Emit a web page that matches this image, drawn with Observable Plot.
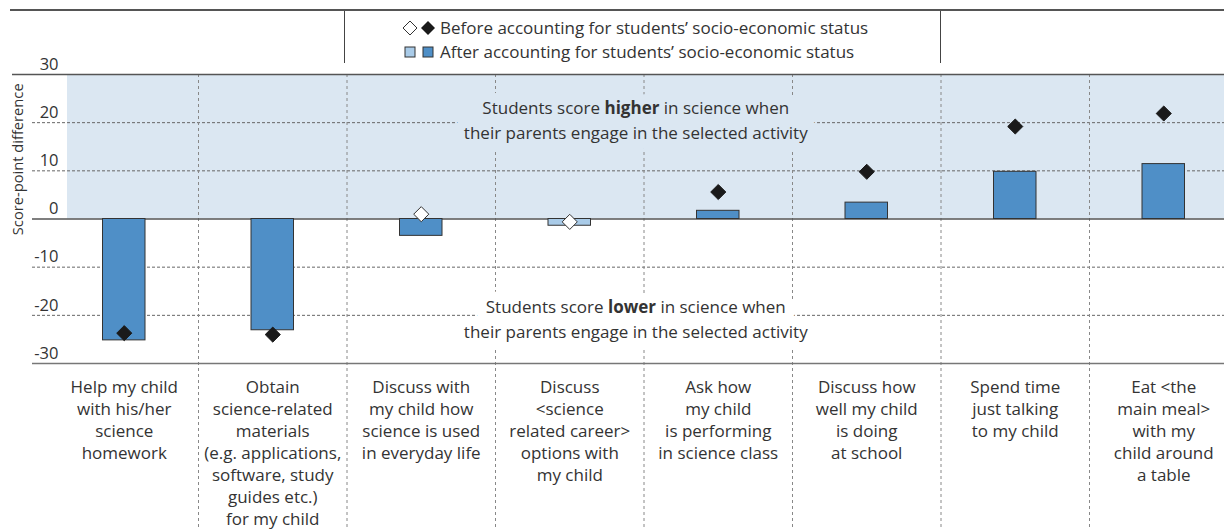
<!DOCTYPE html>
<html>
<head>
<meta charset="utf-8">
<script src="https://cdn.jsdelivr.net/npm/d3@7"></script>
<script src="https://cdn.jsdelivr.net/npm/@observablehq/plot@0.6"></script>
<style>
  html, body { margin: 0; padding: 0; background: #fff; overflow: hidden; }
  body { font-family: "Open Sans", Lato, sans-serif; color: #333; }
  #wrap { position: relative; width: 1224px; height: 530px; }
  #head { position: relative; width: 1224px; height: 63px; }
  #rule { position: absolute; left: 10px; right: 0; top: 9px; height: 2px; background: #555; }
  #lbox { position: absolute; left: 344px; width: 595px; top: 11px; height: 52px;
          border-left: 1.5px solid #444; border-right: 1.5px solid #444; }
  .lrow { position: absolute; left: 56px; font-size: 17px; line-height: 18px; white-space: nowrap; display: flex; align-items: center; }
  #chart svg { display: block; overflow: visible; }
</style>
</head>
<body>
<div id="wrap">
  <div id="head">
    <div id="rule"></div>
    <div id="lbox">
      <div class="lrow" style="top:8px">
        <svg width="39" height="18"><path d="M9,2 L16,9 L9,16 L2,9 Z" fill="#fff" stroke="#333" stroke-width="1"/><path d="M27,2 L34,9 L27,16 L20,9 Z" fill="#1a1a1a"/></svg><span id="lg1"></span>
      </div>
      <div class="lrow" style="top:32px">
        <svg width="39" height="18"><rect x="4" y="4" width="10" height="10" fill="#a9cbe8" stroke="#333" stroke-width="1"/><rect x="22" y="4" width="10" height="10" fill="#4f8fc7" stroke="#333" stroke-width="1"/></svg><span id="lg2"></span>
      </div>
    </div>
  </div>
  <div id="chart"></div>
</div>
<script>
// ---- data ----
const categories = [
  "Help my child\nwith his/her\nscience\nhomework",
  "Obtain\nscience-related\nmaterials\n(e.g. applications,\nsoftware, study\nguides etc.)\nfor my child",
  "Discuss with\nmy child how\nscience is used\nin everyday life",
  "Discuss\n<science\nrelated career>\noptions with\nmy child",
  "Ask how\nmy child\nis performing\nin science class",
  "Discuss how\nwell my child\nis doing\nat school",
  "Spend time\njust talking\nto my child",
  "Eat <the\nmain meal>\nwith my\nchild around\na table"
];
const afterSES = [-25.2, -23.1, -3.5, -1.4, 1.7, 3.4, 9.8, 11.4];
const beforeSES = [-23.7, -24.0, 1.0, -0.6, 5.6, 9.8, 19.2, 21.9];
const afterSignificant = [true, true, true, false, true, true, true, true];
const beforeSignificant = [true, true, false, false, true, true, true, true];
const yTicks = [-30, -20, -10, 0, 10, 20, 30];
const legendLabels = [
  "Before accounting for students\u2019 socio-economic status",
  "After accounting for students\u2019 socio-economic status"
];
const yLabel = "Score-point difference";
const noteHigher = "Students score higher in science when\ntheir parents engage in the selected activity";
const noteLower = "Students score lower in science when\ntheir parents engage in the selected activity";

document.getElementById("lg1").textContent = legendLabels[0];
document.getElementById("lg2").textContent = legendLabels[1];

const rows = categories.map((c, i) => ({
  i, label: c, after: afterSES[i], before: beforeSES[i],
  aSig: afterSignificant[i], bSig: beforeSignificant[i]
}));
const boundaries = categories.slice(1).map((_, i) => i + 0.5);

const bandColor = "#dbe7f2";
const noteOpts = {x: 3, text: d => d, dx: 66, fontSize: 17, lineHeight: 1.48};

const plot = Plot.plot({
  width: 1224,
  height: 467,
  marginTop: 11,
  marginBottom: 167,
  marginLeft: 32,
  marginRight: 0,
  style: {fontFamily: "'Open Sans', Lato, sans-serif", color: "#333", background: "transparent"},
  x: {domain: [-0.5, categories.length - 0.5], range: [49.5, 1237.5], axis: null},
  y: {domain: [-30, 30], axis: null},
  marks: [
    Plot.rectY([{y1: 0, y2: 30}], {y1: "y1", y2: "y2", insetLeft: 35, fill: bandColor}),
    Plot.ruleY(yTicks.filter(d => d !== 0 && Math.abs(d) !== 30), {stroke: "#666", strokeWidth: 1, strokeDasharray: "3,2"}),
    Plot.ruleX(boundaries, {stroke: "#888", strokeWidth: 1, strokeDasharray: "3,3", insetBottom: -170}),
    // halos
    Plot.text([noteHigher], {...noteOpts, y: 20, dy: -4, fill: "none", stroke: bandColor, strokeWidth: 20, strokeLinejoin: "round"}),
    Plot.text([noteLower], {...noteOpts, y: -20, dy: 2, fill: "none", stroke: "#fff", strokeWidth: 20, strokeLinejoin: "round"}),
    // note texts
    Plot.text([noteHigher], {...noteOpts, y: 20, dy: -4, fill: "#333"}),
    Plot.text([noteLower], {...noteOpts, y: -20, dy: 2, fill: "#333"}),
    Plot.ruleY([0], {stroke: "#555", strokeWidth: 1.5}),
    Plot.rectY(rows, {x1: d => d.i - 0.5, x2: d => d.i + 0.5, y1: 0, y2: "after", insetLeft: 53, insetRight: 53,
      fill: d => d.aSig ? "#4f8fc7" : "#a9cbe8", stroke: "#333", strokeWidth: 1}),
    Plot.dot(rows, {x: "i", y: "before", symbol: "diamond2", r: 6.8,
      fill: d => d.bSig ? "#1a1a1a" : "#fff", stroke: d => d.bSig ? "#1a1a1a" : "#333", strokeWidth: 1}),
    Plot.ruleY([30], {stroke: "#555", strokeWidth: 1.5, insetLeft: -20}),
    Plot.ruleY([-30], {stroke: "#777", strokeWidth: 1.5}),
    Plot.axisY(yTicks, {anchor: "left", tickSize: 0, tickPadding: 0, dx: 26, dy: -10, fontSize: 16.5, fill: "#333",
      tickFormat: d => `${d}`, label: null}),
    Plot.text([yLabel], {frameAnchor: "left", y: 12.4, rotate: -90, dx: -14, textAnchor: "middle", fontSize: 14.7, fill: "#333"}),
    Plot.axisX(categories.map((_, i) => i), {anchor: "bottom", tickSize: 0, tickPadding: 14, fontSize: 17,
      lineHeight: 1.294, fill: "#333", tickFormat: i => categories[i], label: null})
  ]
});
document.getElementById("chart").appendChild(plot);

// bold keywords in annotations
function boldWord(word) {
  plot.querySelectorAll("tspan").forEach(t => {
    const s = t.textContent;
    const k = s.indexOf(" " + word + " ");
    if (k >= 0 && t.children.length === 0) {
      const pre = s.slice(0, k + 1), post = s.slice(k + 1 + word.length);
      t.textContent = "";
      const ns = "http://www.w3.org/2000/svg";
      const a = document.createElementNS(ns, "tspan"); a.textContent = pre;
      const b = document.createElementNS(ns, "tspan"); b.textContent = word; b.setAttribute("font-weight", "bold");
      const c = document.createElementNS(ns, "tspan"); c.textContent = post;
      t.append(a, b, c);
    }
  });
}
boldWord("higher");
boldWord("lower");
</script>
</body>
</html>
